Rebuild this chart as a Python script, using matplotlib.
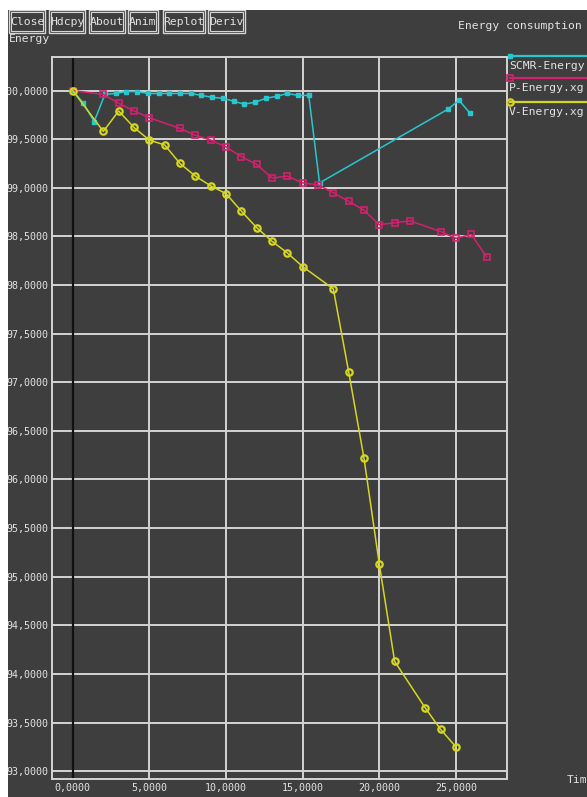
import matplotlib
matplotlib.use("Agg")
import matplotlib.pyplot as plt
from matplotlib.patches import Rectangle
from matplotlib.lines import Line2D
from matplotlib.ticker import FuncFormatter

# data
scmr_x = [0, 0.7, 1.4, 2.1, 2.8, 3.5, 4.2, 4.9, 5.6, 6.3, 7.0, 7.7, 8.4, 9.1,
          9.8, 10.5, 11.2, 11.9, 12.6, 13.3, 14.0, 14.7, 15.4, 16.1, 24.5, 25.2, 25.9]
scmr_y = [100.0, 99.87, 99.68, 99.96, 99.97, 99.99, 99.99, 99.97, 99.97, 99.97,
          99.97, 99.97, 99.95, 99.93, 99.92, 99.89, 99.86, 99.88, 99.92, 99.94,
          99.97, 99.95, 99.95, 99.05, 99.81, 99.90, 99.77]

p_x = [0, 2, 3, 4, 5, 7, 8, 9, 10, 11, 12, 13, 14, 15, 16, 17, 18, 19, 20,
       21, 22, 24, 25, 26, 27]
p_y = [100.0, 99.96, 99.87, 99.79, 99.72, 99.61, 99.54, 99.49, 99.42, 99.32,
       99.24, 99.10, 99.12, 99.05, 99.03, 98.95, 98.86, 98.77, 98.62, 98.64,
       98.66, 98.55, 98.48, 98.52, 98.29]

v_x = [0, 2, 3, 4, 5, 6, 7, 8, 9, 10, 11, 12, 13, 14, 15, 17, 18, 19, 20, 21,
       23, 24, 25]
v_y = [100.0, 99.58, 99.79, 99.62, 99.49, 99.44, 99.25, 99.12, 99.02, 98.94,
       98.76, 98.59, 98.45, 98.33, 98.19, 97.96, 97.11, 96.22, 95.13, 94.13,
       93.65, 93.43, 93.25]

series_names = ["SCMR-Energy.xg", "P-Energy.xg", "V-Energy.xg"]
buttons = ["Close", "Hdcpy", "About", "Anim", "Replot", "Deriv"]
x_ticks = [0, 5, 10, 15, 20, 25]
y_ticks = [93.0 + 0.5 * i for i in range(15)]

W, H = 587, 797
BG = "#3e3e3e"
FG = "#e2e2e2"
GRID = "#d4d4d4"
CYAN = "#27c7cf"
MAG = "#d4206e"
YEL = "#d6d61e"
FONT = "DejaVu Sans Mono"
FS = 7.2


def fx(px):
    return px / W


def fy(py):
    return 1 - py / H


def frect(x0, y0, x1, y1, **kw):
    return Rectangle((fx(x0), fy(y1)), (x1 - x0) / W, (y1 - y0) / H,
                     transform=fig.transFigure, **kw)


fig = plt.figure(figsize=(W / 100, H / 100), dpi=100, facecolor="white")
fig.add_artist(frect(8, 10, W, H, facecolor=BG, edgecolor="none", zorder=-10))

ax = fig.add_axes([fx(52), fy(778.5), (507.3 - 52) / W, (778.5 - 56.5) / H])
ax.set_facecolor(BG)
ax.set_xlim(-1.35, 28.35)
ax.set_ylim(92.925, 100.35)
ax.set_xticks(x_ticks)
ax.set_yticks(y_ticks)
fmt = FuncFormatter(lambda v, pos: ("%.4f" % v).replace(".", ","))
ax.xaxis.set_major_formatter(fmt)
ax.yaxis.set_major_formatter(fmt)
ax.tick_params(length=0, colors=FG, labelsize=FS)
ax.tick_params(axis="y", pad=2.5)
ax.tick_params(axis="x", pad=3.5)
for lab in ax.get_xticklabels() + ax.get_yticklabels():
    lab.set_fontfamily(FONT)
for s in ax.spines.values():
    s.set_color(GRID)
    s.set_linewidth(1.4)
ax.grid(True, color=GRID, linewidth=1.4)
ax.set_axisbelow(True)
ax.axvline(0, color="#111111", linewidth=1.6, zorder=1.5)

ax.plot(scmr_x, scmr_y, color=CYAN, lw=1.1, marker="s", ms=2.6,
        mfc=CYAN, mec=CYAN, zorder=3)
ax.plot(p_x, p_y, color=MAG, lw=1.1, marker="s", ms=4.5, mfc="none",
        mec=MAG, mew=1.2, zorder=3)
ax.plot(v_x, v_y, color=YEL, lw=1.1, marker="o", ms=4.6, mfc="none",
        mec=YEL, mew=1.6, zorder=3)

# legend at the right, xgraph style
leg_y = [55.7, 78.3, 101.7]
styles = [dict(color=CYAN, marker="s", ms=2.6, mfc=CYAN, mec=CYAN),
          dict(color=MAG, marker="s", ms=4.5, mfc="none", mec=MAG, mew=1.2),
          dict(color=YEL, marker="o", ms=4.6, mfc="none", mec=YEL, mew=1.6)]
for name, ly, st in zip(series_names, leg_y, styles):
    fig.add_artist(Line2D([fx(510), fx(W + 5)], [fy(ly), fy(ly)], lw=1.6,
                          transform=fig.transFigure, markevery=[0], **st))
    fig.text(fx(509), fy(ly + 10), name, color=FG, fontsize=FS + 1,
             family=FONT, va="center", ha="left")

fig.text(fx(458), fy(26), "Energy consumption", color=FG, fontsize=FS + 1,
         family=FONT, va="center", ha="left")
fig.text(fx(9), fy(38.5), "Energy", color=FG, fontsize=FS + 1,
         family=FONT, va="center", ha="left")
fig.text(fx(567), fy(780), "Time", color=FG, fontsize=FS + 1,
         family=FONT, va="center", ha="left")

# button bar
fig.add_artist(frect(8, 10, 255, 34, facecolor=BG, edgecolor="none", zorder=4))
bx = [(9, 45), (49, 85), (89, 125), (128, 158), (163, 205), (208, 245)]
for label, (x0, x1) in zip(buttons, bx):
    fig.add_artist(frect(x0, 10, x1, 33, facecolor="none", edgecolor=GRID,
                         lw=1.0, zorder=6))
    fig.add_artist(frect(x0 + 2, 12, x1 - 2, 31, facecolor="none",
                         edgecolor=GRID, lw=0.8, zorder=6))
    fig.text(fx((x0 + x1) / 2), fy(22), label, color=FG, fontsize=FS + 1,
             family=FONT, va="center", ha="center", zorder=7)

# white window border
fig.add_artist(frect(0, 0, 8, H, facecolor="white", edgecolor="none", zorder=8))
fig.add_artist(frect(0, 0, W, 10, facecolor="white", edgecolor="none", zorder=8))

fig.savefig("out.png", dpi=100, facecolor="white")
